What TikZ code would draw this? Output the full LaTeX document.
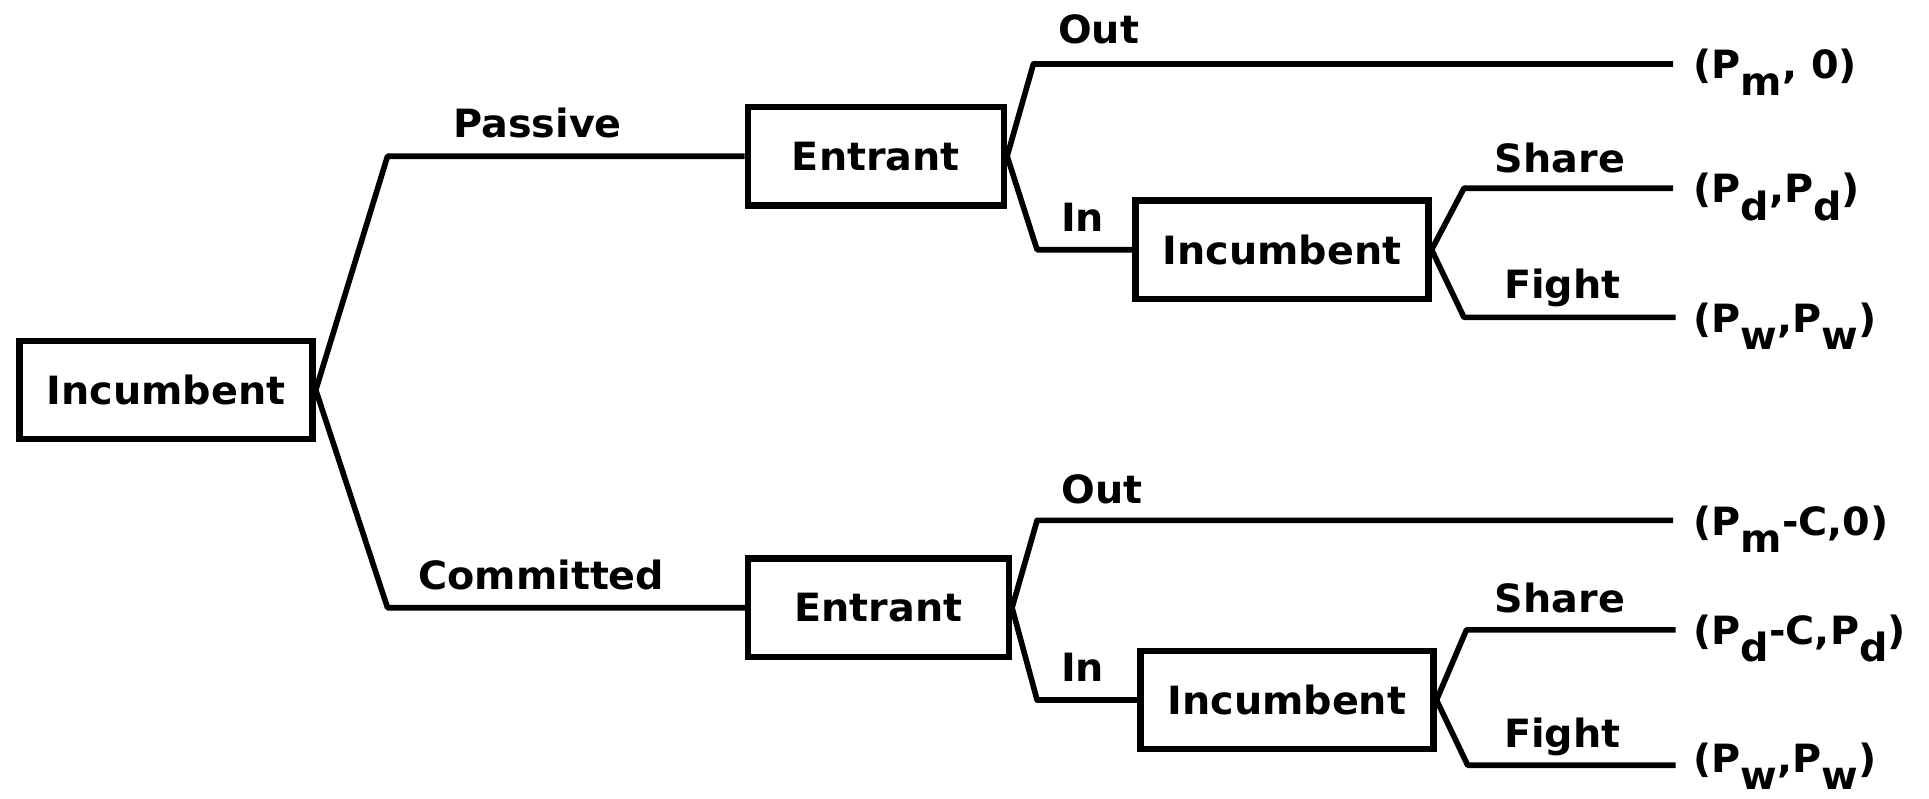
\documentclass[tikz,border=0pt]{standalone}
\usepackage{fontspec}
\setsansfont{DejaVu Sans}[FakeStretch=1.02]
\newcommand\lowsub[1]{\raisebox{-0.8ex}{#1}}
\tikzset{
  player/.style={draw,line width=1.5pt,minimum height=0.8cm,minimum width=2.08cm,inner xsep=0.22cm},
  move/.style={anchor=base},
  payoff/.style={anchor=base west,inner sep=0pt},
  branch/.style={line width=1.3pt,line join=round}
}
\begin{document}
\begin{tikzpicture}[font=\sffamily\bfseries\fontsize{9}{11}\selectfont]
  \useasboundingbox (0,0) rectangle (15.68,6.49);
  % players
  \node[player] (root) at (1.35,3.32) {Incumbent};
  \node[player] (entP) at (7.12,5.22) {Entrant};
  \node[player,minimum width=2.12cm] (entC) at (7.14,1.55) {Entrant};
  \node[player] (incP) at (10.42,4.46) {Incumbent};
  \node[player] (incC) at (10.46,0.80) {Incumbent};
  % corners and ends
  \coordinate (cPas) at (3.15,5.22);
  \coordinate (cCom) at (3.15,1.55);
  \coordinate (cOutP) at (8.40,5.97);
  \coordinate (eOutP) at (13.60,5.97);
  \coordinate (cInP) at (8.43,4.46);
  \coordinate (cShP) at (11.90,4.96);
  \coordinate (eShP) at (13.60,4.96);
  \coordinate (cFiP) at (11.90,3.91);
  \coordinate (eFiP) at (13.62,3.91);
  \coordinate (cOutC) at (8.43,2.26);
  \coordinate (eOutC) at (13.60,2.26);
  \coordinate (cInC) at (8.43,0.80);
  \coordinate (cShC) at (11.92,1.37);
  \coordinate (eShC) at (13.62,1.37);
  \coordinate (cFiC) at (11.93,0.27);
  \coordinate (eFiC) at (13.62,0.27);
  % branches
  \draw[branch] (root.east) -- (cPas) -- (entP.west);
  \draw[branch] (root.east) -- (cCom) -- (entC.west);
  \draw[branch] (entP.east) -- (cOutP) -- (eOutP);
  \draw[branch] (entP.east) -- (cInP) -- (incP.west);
  \draw[branch] (incP.east) -- (cShP) -- (eShP);
  \draw[branch] (incP.east) -- (cFiP) -- (eFiP);
  \draw[branch] (entC.east) -- (cOutC) -- (eOutC);
  \draw[branch] (entC.east) -- (cInC) -- (incC.west);
  \draw[branch] (incC.east) -- (cShC) -- (eShC);
  \draw[branch] (incC.east) -- (cFiC) -- (eFiC);
  % moves
  \node[move] (mPas) at (4.37,5.37) {Passive};
  \node[move] (mCom) at (4.40,1.70) {Committed};
  \node[move] (mOutP) at (8.93,6.14) {Out};
  \node[move] (mInP) at (8.80,4.61) {In};
  \node[move] (mShP) at (12.68,5.09) {Share};
  \node[move] (mFiP) at (12.70,4.06) {Fight};
  \node[move] (mOutC) at (8.96,2.40) {Out};
  \node[move] (mInC) at (8.80,0.95) {In};
  \node[move] (mShC) at (12.68,1.51) {Share};
  \node[move] (mFiC) at (12.70,0.41) {Fight};
  % payoffs
  \node[payoff] (pOutP) at (13.76,5.85) {(P\lowsub{m}, 0)};
  \node[payoff] (pShP) at (13.76,4.84) {(P\lowsub{d},P\lowsub{d})};
  \node[payoff] (pFiP) at (13.76,3.79) {(P\lowsub{w},P\lowsub{w})};
  \node[payoff] (pOutC) at (13.76,2.14) {(P\lowsub{m}-C,0)};
  \node[payoff] (pShC) at (13.76,1.25) {(P\lowsub{d}-C,P\lowsub{d})};
  \node[payoff] (pFiC) at (13.76,0.21) {(P\lowsub{w},P\lowsub{w})};
\end{tikzpicture}
\end{document}
